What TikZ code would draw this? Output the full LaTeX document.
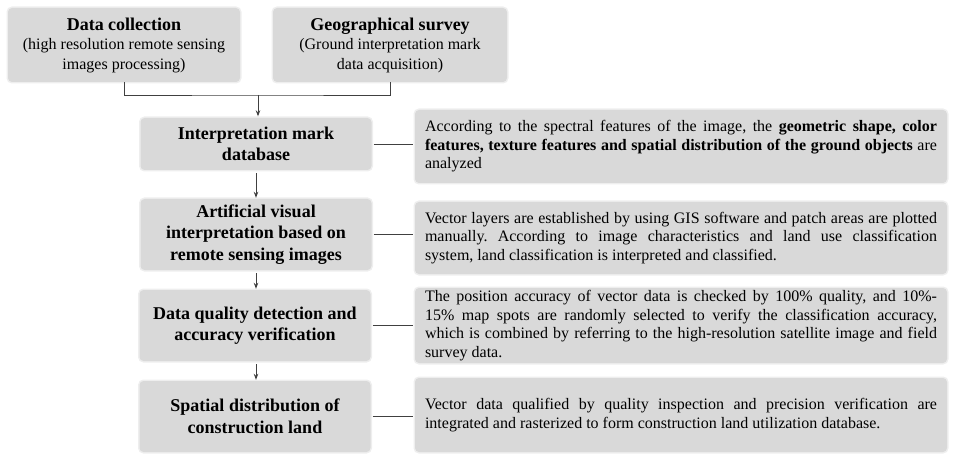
\documentclass[tikz,border=0pt]{standalone}
\usepackage{fontspec}
\setmainfont{Liberation Serif}
\usetikzlibrary{arrows.meta}
\definecolor{boxgray}{HTML}{D9D9D9}
\definecolor{linegray}{HTML}{404040}
\frenchspacing
\begin{document}
\begin{tikzpicture}[x=1pt,y=-1pt,
  box/.style={fill=boxgray, draw=none, rounded corners=4pt, inner sep=0pt, anchor=center,
    preaction={draw=boxgray, draw opacity=0.45, line width=3pt}},
  topbox/.style={box, minimum width=232pt, minimum height=74pt, align=center, font=\fontsize{16}{19.5}\selectfont},
  stepbox/.style={box, minimum width=231pt, align=center, font=\bfseries\fontsize{18}{21.5}\selectfont},
  descbox/.style={box, minimum width=532pt, text width=512pt, align=justify, font=\fontsize{16}{18.5}\selectfont},
  conn/.style={draw=linegray, line width=0.9pt},
  arr/.style={conn, -{Stealth[length=6pt,width=4.5pt]}}
]
\useasboundingbox (0,0) rectangle (957,462);

\node[topbox] (dc) at (124,45) {{\bfseries\fontsize{18}{19.5}\selectfont Data collection}\\(high resolution remote sensing\\images processing)};
\node[topbox, minimum width=234pt] (gs) at (390,45) {{\bfseries\fontsize{18}{19.5}\selectfont Geographical survey}\\(Ground interpretation mark\\data acquisition)};

\node[stepbox, minimum height=52pt] (im) at (256,144) {Interpretation mark\\database};
\node[stepbox, minimum height=71pt] (av) at (256,234.5) {Artificial visual\\interpretation based on\\remote sensing images};
\node[stepbox, minimum height=71pt] (dq) at (255,325.5) {Data quality detection and\\accuracy verification};
\node[stepbox, minimum height=71pt] (sd) at (255,416.5) {Spatial distribution of\\construction land};

\node[descbox, minimum height=73pt] (d1) at (681,146.5) {According to the spectral features of the image, the \textbf{geometric shape, color}\linebreak \textbf{features, texture features and spatial distribution of the ground objects} are\linebreak analyzed};
\node[descbox, minimum height=72pt] (d2) at (681,238) {Vector layers are established by using GIS software and patch areas are plotted\linebreak manually. According to image characteristics and land use classification\linebreak system, land classification is interpreted and classified.};
\node[descbox, minimum height=75pt] (d3) at (681,325.5) {The position accuracy of vector data is checked by 100\% quality, and 10\%-\linebreak 15\% map spots are randomly selected to verify the classification accuracy,\linebreak which is combined by referring to the high-resolution satellite image and field\linebreak survey data.};
\node[descbox, minimum height=74pt] (d4) at (681,415) {Vector data qualified by quality inspection and precision verification are\linebreak integrated and rasterized to form construction land utilization database.};

\coordinate (j) at (258,95);
\draw[conn] (dc.south) |- (j) -| (gs.south);
\draw[arr, shorten >=1.5pt] (j) -- (j |- im.north);
\draw[arr, shorten <=3pt, shorten >=1pt] (im.south) -- (im.south |- av.north);
\draw[arr, shorten <=3pt, shorten >=1pt] (av.south) -- (av.south |- dq.north);
\draw[arr, shorten <=3pt, shorten >=1pt] (av.south |- dq.south) -- (av.south |- sd.north);

\draw[conn, shorten <=2pt, shorten >=2pt] (im.east) -- (im.east -| d1.west);
\draw[conn, shorten <=2pt, shorten >=2pt] (av.east) -- (av.east -| d2.west);
\draw[conn, shorten <=2pt, shorten >=2pt] (dq.east) -- (dq.east -| d3.west);
\draw[conn, shorten <=2pt, shorten >=2pt] (sd.east) -- (sd.east -| d4.west);
\end{tikzpicture}
\end{document}
